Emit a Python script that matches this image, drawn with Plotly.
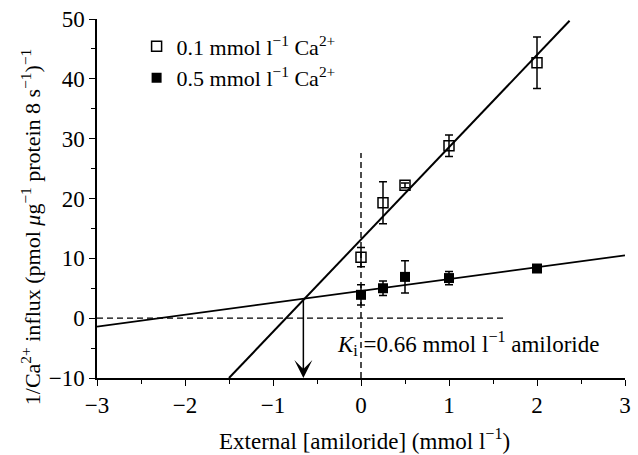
import plotly.graph_objects as go

# Data
amiloride = [0, 0.25, 0.5, 1, 2]
inv_low = [10.2, 19.3, 22.2, 28.8, 42.7]       # 0.1 mmol/l Ca2+
err_low = [1.6, 3.5, 0.4, 1.8, 4.3]
inv_high = [3.9, 5.0, 6.9, 6.7, 8.3]           # 0.5 mmol/l Ca2+
err_high = [1.7, 1.2, 2.7, 1.1, 0.0]

fit_low_x = [-1.5, 2.37]
fit_low_y = [-10, 49.7]
fit_high_x = [-3, 3]
fit_high_y = [-1.4, 10.5]

zero_line_x = [-3, 1.65]
zero_line_y = [0, 0]
vert_line_x = [0, 0]
vert_line_y = [-10, 27.6]

ki_x = -0.655
ki_y = 3.15
y_bottom = -10

FONT = "Liberation Serif"

fig = go.Figure()

fig.add_trace(go.Scatter(x=fit_low_x, y=fit_low_y, mode="lines",
                         line=dict(color="black", width=2), showlegend=False, hoverinfo="skip"))
fig.add_trace(go.Scatter(x=fit_high_x, y=fit_high_y, mode="lines",
                         line=dict(color="black", width=1.7), showlegend=False, hoverinfo="skip"))
fig.add_trace(go.Scatter(x=zero_line_x, y=zero_line_y, mode="lines",
                         line=dict(color="black", width=1.4, dash="6px,4px"), showlegend=False, hoverinfo="skip"))
fig.add_trace(go.Scatter(x=vert_line_x, y=vert_line_y, mode="lines",
                         line=dict(color="black", width=1.4, dash="6px,4px"), showlegend=False, hoverinfo="skip"))
fig.add_trace(go.Scatter(x=[ki_x, ki_x], y=[ki_y, y_bottom + 1.5], mode="lines",
                         line=dict(color="black", width=1.5), showlegend=False, hoverinfo="skip"))

fig.add_trace(go.Scatter(
    x=amiloride, y=inv_low, mode="markers",
    name="0.1 mmol l<sup>−1</sup> Ca<sup>2+</sup>",
    marker=dict(symbol="square-open", size=10, color="black", line=dict(width=1.5)),
    error_y=dict(type="data", array=err_low, visible=True, color="black", thickness=1.5, width=4),
))
fig.add_trace(go.Scatter(
    x=amiloride, y=inv_high, mode="markers",
    name="0.5 mmol l<sup>−1</sup> Ca<sup>2+</sup>",
    marker=dict(symbol="square", size=10, color="black"),
    error_y=dict(type="data", array=err_high, visible=True, color="black", thickness=1.5, width=4),
))

fig.add_annotation(x=ki_x, y=y_bottom, ax=ki_x, ay=y_bottom + 2, axref="x", ayref="y",
                   xref="x", yref="y", text="", showarrow=True, arrowhead=3,
                   arrowsize=2, arrowwidth=1.5, arrowcolor="black")
fig.add_annotation(x=1.22, y=-4.2, xref="x", yref="y", showarrow=False,
                   xanchor="center", yanchor="middle",
                   text="<i>K</i><sub>i</sub> =0.66 mmol l<sup>−1</sup> amiloride",
                   font=dict(family=FONT, size=23, color="black"))

# Axis titles
fig.add_annotation(x=0.506, y=-0.171, xref="paper", yref="paper", showarrow=False,
                   xanchor="center", yanchor="middle",
                   text="External [amiloride] (mmol l<sup>−1</sup>)",
                   font=dict(family=FONT, size=23, color="black"))
fig.add_annotation(x=-0.125, y=0.42, xref="paper", yref="paper", showarrow=False, textangle=-90,
                   xanchor="center", yanchor="middle",
                   text="1/Ca<sup>2+</sup> influx (pmol <i>μ</i>g<sup>−1</sup> protein 8 s<sup>−1</sup>)<sup>−1</sup>",
                   font=dict(family=FONT, size=22, color="black"))

fig.update_layout(
    width=638, height=455,
    margin=dict(l=97, r=7, t=16, b=77),
    paper_bgcolor="white", plot_bgcolor="white",
    font=dict(family=FONT, size=20, color="black"),
    legend=dict(x=0.075, y=0.982, xanchor="left", yanchor="top",
                font=dict(family=FONT, size=22), bgcolor="rgba(0,0,0,0)",
                itemwidth=30),
)
fig.update_xaxes(range=[-3, 3], showgrid=False, zeroline=False, showline=True,
                 linecolor="black", linewidth=1.5, ticks="outside", ticklen=6,
                 tickwidth=1.3, tickcolor="black", dtick=1, tickformat="d",
                 minor=dict(dtick=0.5, ticks="outside", ticklen=4, tickcolor="black", tickwidth=1.2),
                 tickfont=dict(size=23))
fig.update_yaxes(range=[-10, 50], showgrid=False, zeroline=False, showline=True,
                 linecolor="black", linewidth=1.5, ticks="outside", ticklen=6,
                 tickwidth=1.3, tickcolor="black", dtick=10,
                 minor=dict(dtick=5, ticks="outside", ticklen=4, tickcolor="black", tickwidth=1.2),
                 tickfont=dict(size=23))

fig.write_html("out.html")
